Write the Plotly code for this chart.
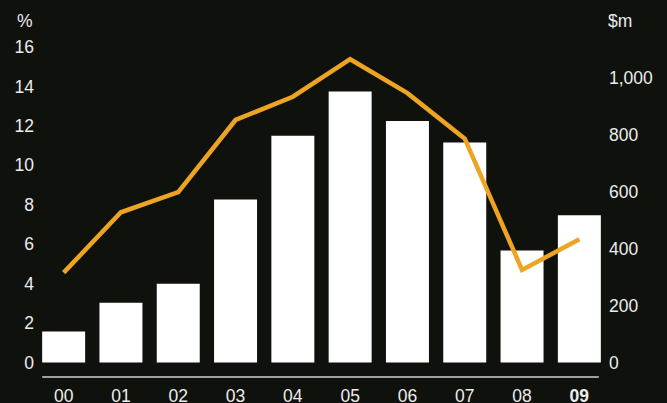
import plotly.graph_objects as go

# Year labels (2000-2009)
years = ["00", "01", "02", "03", "04", "05", "06", "07", "08", "09"]
year_labels = ["00", "01", "02", "03", "04", "05", "06", "07", "08", "<b>09</b>"]

# Bars: $m (right axis)
amount_m = [109, 210, 277, 572, 796, 951, 847, 772, 393, 517]
# Line: % (left axis)
share_pct = [4.56, 7.62, 8.64, 12.3, 13.48, 15.38, 13.66, 11.35, 4.7, 6.25]

left_ticks = [0, 2, 4, 6, 8, 10, 12, 14, 16]
right_ticks = [0, 200, 400, 600, 800, 1000]
right_ticktext = ["0", "200", "400", "600", "800", "1,000"]

BG = "#0f110d"
TXT = "#ececec"
ORANGE = "#eea423"
FONT = "Liberation Sans"
FS = 17.5

x = list(range(len(years)))

left_range = [-0.73, 16]
scale = 1107 / 16
right_range = [left_range[0] * scale, left_range[1] * scale]

fig = go.Figure()
# bars on the primary (right-hand, $m) axis, line on the overlaid (left-hand, %) axis so it sits on top
fig.add_trace(go.Bar(x=x, y=amount_m, yaxis="y", marker=dict(color="white", line=dict(width=0)),
                     showlegend=False, hoverinfo="skip"))
fig.add_trace(go.Scatter(x=x, y=share_pct, yaxis="y2", mode="lines",
                         line=dict(color=ORANGE, width=4.5, shape="linear"),
                         showlegend=False, hoverinfo="skip"))

fig.update_layout(
    width=667, height=403,
    margin=dict(l=34.8, r=58.8, t=47, b=26, autoexpand=False),
    paper_bgcolor=BG, plot_bgcolor=BG,
    font=dict(family=FONT, size=FS, color=TXT),
    bargap=0.25,
    xaxis=dict(range=[-0.5, 9.5], tickvals=x, ticktext=year_labels, showgrid=False,
               zeroline=False, showline=False, ticks="", automargin=False,
               ticklabelstandoff=6, tickfont=dict(size=FS, color=TXT)),
    yaxis=dict(range=right_range, tickvals=right_ticks, ticktext=right_ticktext,
               side="right", showgrid=False, zeroline=False,
               showline=False, ticks="", automargin=False,
               tickfont=dict(size=FS, color=TXT)),
    yaxis2=dict(range=left_range, tickvals=left_ticks, overlaying="y", side="left",
                showgrid=False, zeroline=False, showline=False, ticks="", automargin=False,
                tickfont=dict(size=FS, color=TXT)),
    shapes=[dict(type="line", xref="x", yref="paper", x0=-0.375, x1=9.34, y0=0, y1=0,
                 line=dict(color="#d0d0d0", width=1.5))],
    annotations=[
        dict(text="%", xref="paper", yref="paper", x=(15 - 34.8) / 573.3, y=(403 - 26 - 21) / 330,
             xanchor="left", yanchor="middle", showarrow=False, font=dict(size=FS, color=TXT)),
        dict(text="$m", xref="paper", yref="paper", x=(606 - 34.8) / 573.3, y=(403 - 26 - 21) / 330,
             xanchor="left", yanchor="middle", showarrow=False, font=dict(size=FS, color=TXT)),
    ],
)

fig.write_html("out.html")
